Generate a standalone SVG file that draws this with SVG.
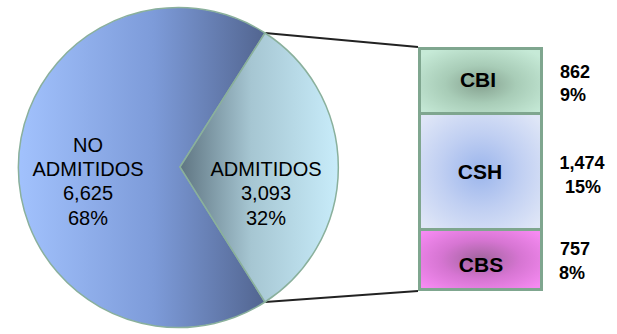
<svg xmlns="http://www.w3.org/2000/svg" width="617" height="334" viewBox="0 0 617 334">
<defs>
<linearGradient id="gBig" gradientUnits="userSpaceOnUse" x1="18" y1="0" x2="265" y2="0">
<stop offset="0" stop-color="#a2c2fd"/>
<stop offset="0.55" stop-color="#7d9bd9"/>
<stop offset="1" stop-color="#526590"/>
</linearGradient>
<linearGradient id="gSmall" gradientUnits="userSpaceOnUse" x1="180" y1="0" x2="338" y2="0">
<stop offset="0" stop-color="#5f7582"/>
<stop offset="0.45" stop-color="#a6c6d2"/>
<stop offset="1" stop-color="#c8ecfa"/>
</linearGradient>
<radialGradient id="gCBI" cx="0.5" cy="0.55" r="0.65">
<stop offset="0" stop-color="#86a290"/>
<stop offset="0.45" stop-color="#a8ccb7"/>
<stop offset="1" stop-color="#c6ead7"/>
</radialGradient>
<radialGradient id="gCSH" cx="0.5" cy="0.5" r="0.65">
<stop offset="0" stop-color="#9bb5ec"/>
<stop offset="0.5" stop-color="#c0cff2"/>
<stop offset="1" stop-color="#dfe6f7"/>
</radialGradient>
<radialGradient id="gCBS" cx="0.5" cy="0.5" r="0.65">
<stop offset="0" stop-color="#a0649c"/>
<stop offset="0.5" stop-color="#d675d2"/>
<stop offset="1" stop-color="#f68af2"/>
</radialGradient>
</defs>
<style>
.lbl{font-family:"Liberation Sans",Arial,sans-serif;font-size:20px;fill:#000;text-anchor:middle}
.box{font-family:"Liberation Sans",Arial,sans-serif;font-size:21px;font-weight:bold;fill:#000;text-anchor:middle}
.val{font-family:"Liberation Sans",Arial,sans-serif;font-size:18px;font-weight:bold;fill:#000;text-anchor:middle}
.edge{stroke:#8ab09c;stroke-width:1.5}
.cell{stroke:#7fa68f;stroke-width:3}
</style>
<g id="connectors" stroke="#222" stroke-width="2" fill="none">
<line x1="265" y1="33" x2="418" y2="47"/>
<line x1="265" y1="302" x2="418" y2="291"/>
</g>
<g id="no-admitidos">
<path class="edge" d="M180,167 L265,33 A160,160 0 1,0 265,302 Z" fill="url(#gBig)"/>
<text class="lbl" x="88" y="152">NO</text>
<text class="lbl" x="88" y="176">ADMITIDOS</text>
<text class="lbl" x="88" y="200">6,625</text>
<text class="lbl" x="88" y="225">68%</text>
</g>
<g id="admitidos">
<path class="edge" d="M180,167 L265,33 A160,160 0 0,1 265,302 Z" fill="url(#gSmall)"/>
<text class="lbl" x="266" y="176">ADMITIDOS</text>
<text class="lbl" x="266" y="200">3,093</text>
<text class="lbl" x="266" y="225">32%</text>
</g>
<g id="cbi">
<rect class="cell" x="419.5" y="48.5" width="122" height="65" fill="url(#gCBI)"/>
<text class="box" x="478" y="87">CBI</text>
<text class="val" x="575" y="78">862</text>
<text class="val" x="573" y="101">9%</text>
</g>
<g id="csh">
<rect class="cell" x="419.5" y="113.5" width="122" height="116" fill="url(#gCSH)"/>
<text class="box" x="480" y="179">CSH</text>
<text class="val" x="582" y="169">1,474</text>
<text class="val" x="583" y="193">15%</text>
</g>
<g id="cbs">
<rect class="cell" x="419.5" y="229.5" width="122" height="60" fill="url(#gCBS)"/>
<text class="box" x="481" y="272">CBS</text>
<text class="val" x="575" y="255">757</text>
<text class="val" x="572" y="279">8%</text>
</g>
</svg>
